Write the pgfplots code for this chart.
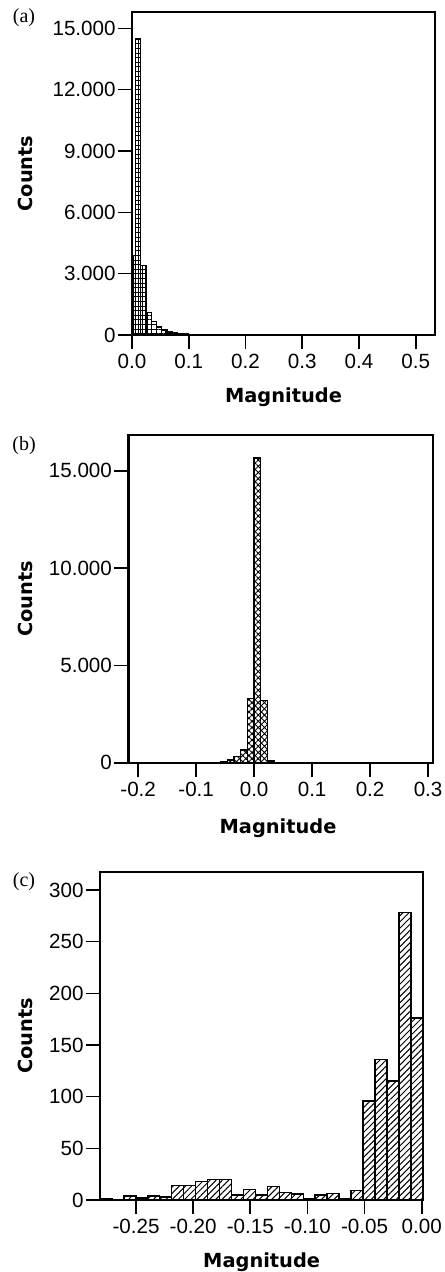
\documentclass[border=0pt]{standalone}
\usepackage{pgfplots}
\pgfplotsset{compat=1.18}
\usepackage{fontspec}
\setmainfont{Liberation Sans}
\newfontfamily\lblfont{DejaVu Sans}
\newfontfamily\panelfont{Liberation Serif}
\usetikzlibrary{patterns.meta}
\pgfplotsset{
  spss/.style={
    scale only axis,
    anchor=south west,
    axis line style={line width=1bp},
    tick style={line width=0.8bp, black},
    tick align=outside,
    major tick length=7bp,
    xtick pos=left, ytick pos=left,
    minor tick num=0,
    scaled y ticks=false, scaled x ticks=false,
    ymin=0,
    tick label style={font=\fontsize{10.3bp}{12bp}\selectfont},
    label style={font=\fontsize{9.7bp}{11bp}\selectfont\lblfont\bfseries},
    xticklabel style={inner sep=2.5bp},
    yticklabel style={inner sep=1bp},
  },
  bars/.style={ybar, bar shift=0pt, draw=black, line width=0.7bp},
}
\begin{document}
\begin{tikzpicture}
\useasboundingbox (0,0) rectangle (222.5bp,-636bp);
% ---------- (a)
\node[font=\fontsize{10bp}{12bp}\selectfont\panelfont] at (12bp,-8.75bp) {(a)};
\begin{axis}[spss,
  at={(66bp,-167.5bp)}, width=151.5bp, height=161.5bp,
  xmin=0, xmax=0.534, ymax=15800,
  xtick={0,0.1,0.2,0.3,0.4,0.5},
  xticklabels={0.0,0.1,0.2,0.3,0.4,0.5},
  ytick={0,3000,6000,9000,12000,15000},
  yticklabels={0,3.000,6.000,9.000,12.000,15.000},
  xlabel={Magnitude}, ylabel={Counts},
  xlabel style={at={(axis description cs:0.5,-0.2105)}, anchor=base},
  ylabel style={at={(axis description cs:-0.353,0.5)}, anchor=center},
]
\addplot[bars, bar width=0.006, pattern={Hatch[angle=0,distance=2.3bp,line width=0.45bp]}]
  coordinates {(0.003,3900)};
\addplot[bars, bar width=0.0093, pattern={Hatch[angle=0,distance=2.3bp,line width=0.45bp]}]
  coordinates {
  (0.01065,14500) (0.01995,3400) (0.02925,1100) (0.03855,650) (0.04785,400)
  (0.05715,240) (0.06645,150) (0.07575,100) (0.08505,70) (0.09435,45)
  (0.10365,30) (0.11295,20) (0.12225,15) (0.13155,10) (0.14085,8)
  (0.15015,6) (0.15945,4) (0.16875,3) (0.17805,2) (0.18735,2) (0.19665,1)
  };
\end{axis}
% ---------- (b)
\node[font=\fontsize{10bp}{12bp}\selectfont\panelfont] at (12bp,-222.75bp) {(b)};
\begin{axis}[spss,
  at={(64.15bp,-381.35bp)}, width=152.5bp, height=163.85bp,
  xmin=-0.217, xmax=0.309, ymax=16840,
  xtick={-0.2,-0.1,0,0.1,0.2,0.3},
  xticklabels={-0.2,-0.1,0.0,0.1,0.2,0.3},
  ytick={0,5000,10000,15000},
  yticklabels={0,5.000,10.000,15.000},
  xlabel={Magnitude}, ylabel={Counts},
  xlabel style={at={(axis description cs:0.491,-0.2145)}, anchor=base},
  ylabel style={at={(axis description cs:-0.3387,0.5)}, anchor=center},
]
\addplot[bars, bar width=0.0115, pattern={Hatch[angle=45,distance=2.2bp,line width=0.45bp]}]
  coordinates {
  (-0.06325,15) (-0.05175,50) (-0.04025,140) (-0.02875,310) (-0.01725,650)
  (-0.00575,3300) (0.00575,15650) (0.01725,3200) (0.02875,90) (0.04025,25)
  (0.05175,8)
  };
\draw[line width=2bp] (rel axis cs:0,0) -- (rel axis cs:0,1);
\end{axis}
% ---------- (c)
\node[font=\fontsize{10bp}{12bp}\selectfont\panelfont] at (12bp,-441bp) {(c)};
\begin{axis}[spss,
  at={(50bp,-600bp)}, width=161.65bp, height=164.15bp,
  xmin=-0.2815, xmax=0.0014, ymax=317.7,
  xtick={-0.25,-0.2,-0.15,-0.1,-0.05,0},
  xticklabels={-0.25,-0.20,-0.15,-0.10,-0.05,0.00},
  ytick={0,50,100,150,200,250,300},
  yticklabels={0,50,100,150,200,250,300},
  xlabel={Magnitude}, ylabel={Counts},
  xlabel style={at={(axis description cs:0.5,-0.207)}, anchor=base},
  ylabel style={at={(axis description cs:-0.232,0.5)}, anchor=center},
]
\addplot[bars, bar width=0.01046, pattern={Lines[angle=45,distance=2.2bp,line width=0.5bp]}]
  coordinates {
  (-0.27627,1.5) (-0.26581,0) (-0.25535,4) (-0.24489,2) (-0.23443,4)
  (-0.22397,3) (-0.21351,14) (-0.20305,14) (-0.19259,18) (-0.18213,20)
  (-0.17167,20) (-0.16121,5) (-0.15075,10) (-0.14029,5) (-0.12983,13)
  (-0.11937,7) (-0.10891,6) (-0.09845,1) (-0.08799,5) (-0.07753,6.5)
  (-0.06707,1) (-0.05661,9) (-0.04615,96) (-0.03569,136) (-0.02523,115)
  (-0.01477,278) (-0.00431,176)
  };
\end{axis}
\end{tikzpicture}
\end{document}
